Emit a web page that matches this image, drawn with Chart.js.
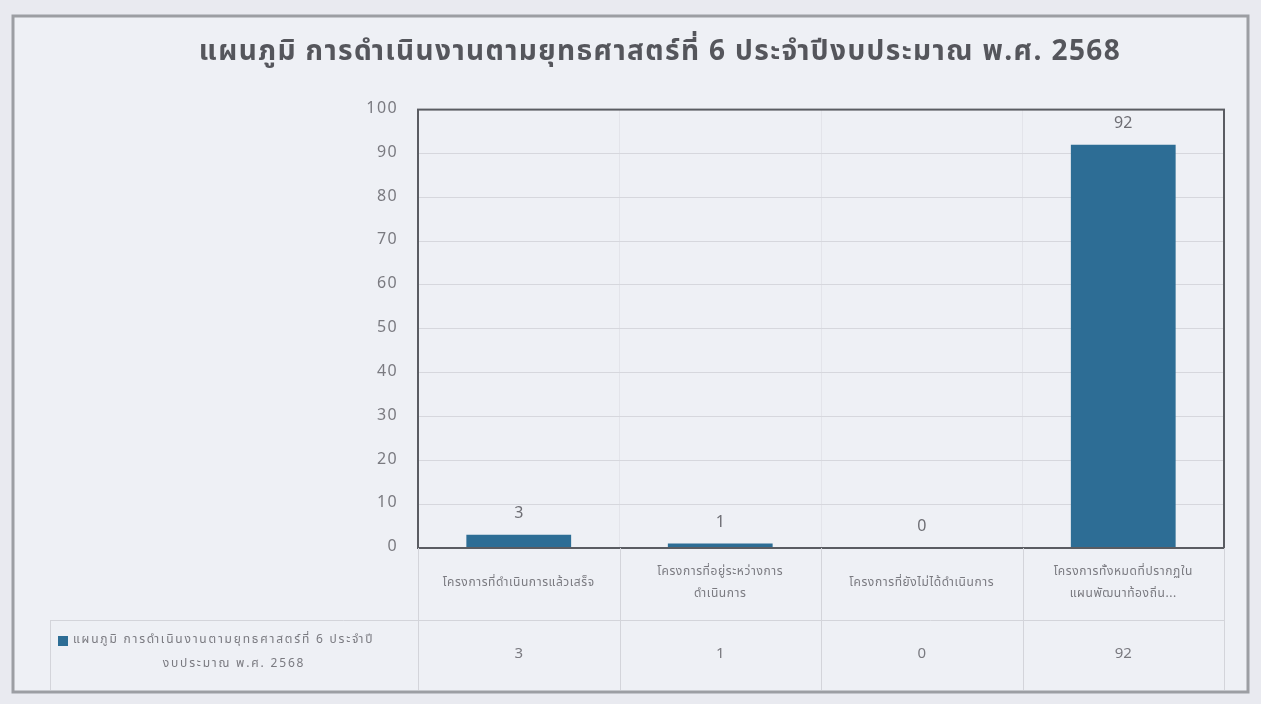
<!DOCTYPE html>
<html>
<head>
<meta charset="utf-8">
<script src="https://cdn.jsdelivr.net/npm/chart.js@4.4.0/dist/chart.umd.min.js"></script>
<style>
  html, body { margin: 0; padding: 0; background: #eceef4; }
  #wrap { width: 1261px; height: 704px; }
</style>
</head>
<body>
<div id="wrap"><canvas id="myChart" width="1261" height="704"></canvas></div>
<script>
// data
const chartTitle = "แผนภูมิ การดำเนินงานตามยุทธศาสตร์ที่ 6 ประจำปีงบประมาณ พ.ศ. 2568";
const seriesName = ["แผนภูมิ การดำเนินงานตามยุทธศาสตร์ที่ 6 ประจำปี", "งบประมาณ พ.ศ. 2568"];
const categories = [
  ["โครงการที่ดำเนินการแล้วเสร็จ"],
  ["โครงการที่อยู่ระหว่างการ", "ดำเนินการ"],
  ["โครงการที่ยังไม่ได้ดำเนินการ"],
  ["โครงการทั้งหมดที่ปรากฏใน", "แผนพัฒนาท้องถิ่น..."]
];
const values = [3, 1, 0, 92];
const yMin = 0, yMax = 100, yStep = 10;

const FONT = '"Noto Sans Thai", Tahoma, "Noto Sans", "DejaVu Sans", sans-serif';
const barColor = "#2d6d95";
const textGray = "#7a7a80";
const lineGray = "#d3d4da";

// frame, plot border, data labels and data table
const tablePlugin = {
  id: 'tablePlugin',
  beforeDraw(chart) {
    const ctx = chart.ctx;
    ctx.save();
    ctx.fillStyle = "#e9eaf0";
    ctx.fillRect(0, 0, chart.width, chart.height);
    ctx.fillStyle = "#eef0f5";
    ctx.fillRect(13, 16, 1235, 676);
    ctx.strokeStyle = "#9c9ea3";
    ctx.lineWidth = 3;
    ctx.strokeRect(13, 16, 1235, 676);
    ctx.restore();
    // wider title spacing, like the original
    ctx.letterSpacing = "1.4px";
  },
  beforeDatasetsDraw(chart) {
    chart.ctx.letterSpacing = "0px";
  },
  afterDraw(chart) {
    const ctx = chart.ctx;
    const area = chart.chartArea;
    const x = chart.scales.x;
    const y = chart.scales.y;
    const half = (x.getPixelForValue(1) - x.getPixelForValue(0)) / 2;
    const row1 = area.bottom, row2 = area.bottom + 72, row3 = area.bottom + 142;
    const tableLeft = 50;
    ctx.save();

    // plot border
    ctx.strokeStyle = "#5a5c62";
    ctx.lineWidth = 2;
    ctx.strokeRect(area.left, area.top, area.right - area.left, area.bottom - area.top);

    // table lines
    ctx.strokeStyle = lineGray;
    ctx.lineWidth = 1;
    ctx.beginPath();
    ctx.moveTo(tableLeft, row2 + 0.5); ctx.lineTo(area.right, row2 + 0.5);
    ctx.moveTo(tableLeft + 0.5, row2); ctx.lineTo(tableLeft + 0.5, row3);
    for (let i = 0; i <= categories.length; i++) {
      const bx = Math.round(x.getPixelForValue(i) - half) + 0.5;
      ctx.moveTo(bx, row1); ctx.lineTo(bx, row3);
    }
    ctx.stroke();

    ctx.textAlign = "center";
    ctx.textBaseline = "middle";
    values.forEach((v, i) => {
      const cx = x.getPixelForValue(i);
      // value above bar
      ctx.letterSpacing = "0px";
      ctx.fillStyle = "#6e6e74";
      ctx.font = "16px " + FONT;
      ctx.fillText(String(v), cx, y.getPixelForValue(v) - 20);
      // value in table
      ctx.fillStyle = textGray;
      ctx.font = "15px " + FONT;
      ctx.fillText(String(v), cx, (row2 + row3) / 2);
      // category name
      ctx.font = "12px " + FONT;
      ctx.letterSpacing = "0.6px";
      const lines = categories[i];
      const lh = 22;
      const startY = (row1 + row2) / 2 - (lines.length - 1) * lh / 2;
      lines.forEach((t, k) => ctx.fillText(t, cx, startY + k * lh));
    });

    // legend cell
    ctx.fillStyle = barColor;
    ctx.fillRect(58, row2 + 16, 10, 10);
    ctx.fillStyle = textGray;
    ctx.font = "12px " + FONT;
    ctx.letterSpacing = "1.8px";
    ctx.textAlign = "left";
    ctx.fillText(seriesName[0], 73, row2 + 21);
    ctx.textAlign = "center";
    ctx.fillText(seriesName[1], (tableLeft + area.left) / 2, row2 + 45);
    ctx.restore();
  }
};

const ctx = document.getElementById('myChart').getContext('2d');
const myChart = new Chart(ctx, {
  type: 'bar',
  data: {
    labels: categories,
    datasets: [{
      label: seriesName.join(''),
      data: values,
      backgroundColor: barColor,
      barPercentage: 0.52,
      categoryPercentage: 1
    }]
  },
  options: {
    responsive: false,
    animation: false,
    layout: { padding: { left: 96, right: 37, top: 38, bottom: 14 } },
    plugins: {
      legend: { display: false },
      tooltip: { enabled: false },
      title: {
        display: true,
        text: chartTitle,
        color: "#55565c",
        font: { family: FONT, size: 28, weight: 'bold' },
        padding: { top: 0, bottom: 38 }
      }
    },
    scales: {
      x: {
        ticks: { display: false },
        grid: { display: true, offset: true, color: "#e3e4ea", drawTicks: false },
        border: { display: false },
        afterFit(scale) { scale.height = 142; }
      },
      y: {
        min: yMin,
        max: yMax,
        ticks: {
          stepSize: yStep,
          color: textGray,
          padding: 20,
          font: { family: FONT, size: 16 }
        },
        grid: { color: "#d6d7dd", drawTicks: false },
        border: { display: false },
        afterFit(scale) { scale.width = 322; }
      }
    }
  },
  plugins: [tablePlugin]
});
</script>
</body>
</html>
